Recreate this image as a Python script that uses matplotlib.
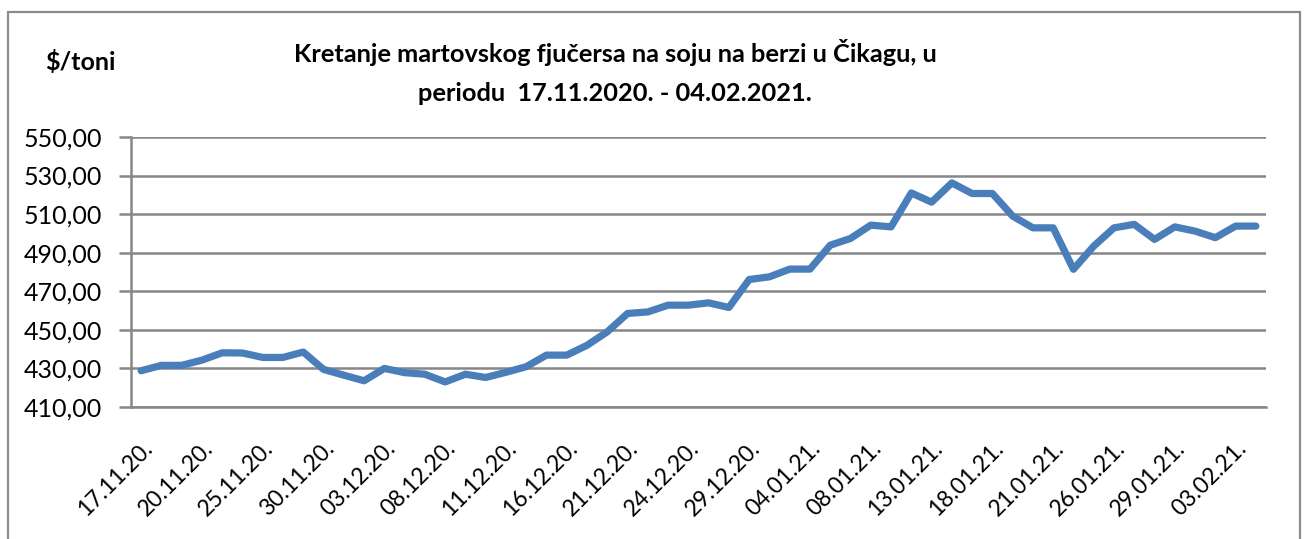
import matplotlib
matplotlib.use("Agg")
import matplotlib.pyplot as plt
from matplotlib.patches import Rectangle

# ---- data ----
dates = ["17.11.20.", "20.11.20.", "25.11.20.", "30.11.20.", "03.12.20.", "08.12.20.",
         "11.12.20.", "16.12.20.", "21.12.20.", "24.12.20.", "29.12.20.", "04.01.21.",
         "08.01.21.", "13.01.21.", "18.01.21.", "21.01.21.", "26.01.21.", "29.01.21.",
         "03.02.21."]
label_step = 3
prices = [428.8, 431.6, 431.6, 434.3, 438.1, 438.0, 435.7, 435.7, 438.5, 429.5,
          426.5, 423.6, 430.0, 427.8, 427.0, 423.0, 427.0, 425.3, 428.0, 430.9,
          436.9, 436.9, 442.0, 449.0, 458.5, 459.3, 462.8, 462.8, 464.0, 461.6,
          476.1, 477.5, 481.5, 481.5, 493.9, 497.4, 504.3, 503.4, 521.0, 516.2,
          526.2, 520.7, 520.7, 509.0, 502.9, 502.9, 481.4, 493.4, 502.9, 504.7,
          496.9, 503.4, 501.2, 497.8, 503.8, 503.8]
y_ticks = [410, 430, 450, 470, 490, 510, 530, 550]
title = "Kretanje martovskog fjučersa na soju na berzi u Čikagu, u\nperiodu  17.11.2020. - 04.02.2021."
unit = "$/toni"

FONT = ["Lato", "DejaVu Sans"]
plt.rcParams["font.family"] = FONT

W, H = 1306, 539
fig = plt.figure(figsize=(W / 100, H / 100), dpi=100)
fig.patch.set_facecolor("white")

# outer chart border
fig.patches.append(Rectangle((8 / W, -0.05), (1300 - 8) / W, 1.05 - 12 / H,
                             transform=fig.transFigure, fill=False,
                             edgecolor="#8c8c8c", linewidth=1.6))

ax = fig.add_axes([131 / W, 1 - 407 / H, (1266 - 131) / W, (407 - 137) / H])
x = list(range(len(prices)))
ax.plot(x, prices, color="#4a7ebb", linewidth=5.2, solid_joinstyle="round",
        solid_capstyle="round", zorder=3)

ax.set_xlim(-0.5, len(prices) - 0.5)
ax.set_ylim(410, 550)
ax.set_yticks(y_ticks)
ax.set_yticklabels([f"{v:.2f}".replace(".", ",") for v in y_ticks], fontsize=18)
ax.grid(axis="y", color="#878787", linewidth=1.8, zorder=1)
ax.set_axisbelow(True)

tick_pos = list(range(0, len(prices), label_step))[:len(dates)]
ax.set_xticks(tick_pos)
ax.set_xticklabels(dates, rotation=45, ha="right", va="top", fontsize=16.5,
                   rotation_mode="anchor")
ax.tick_params(axis="x", length=0, pad=22)
ax.tick_params(axis="y", length=9, width=1.8, color="#878787", pad=12)

for s in ["top", "right"]:
    ax.spines[s].set_visible(False)
ax.spines["left"].set_color("#878787")
ax.spines["left"].set_linewidth(1.8)
ax.spines["bottom"].set_color("#878787")
ax.spines["bottom"].set_linewidth(1.8)

fig.text(615 / W, 1 - 72 / H, title, ha="center", va="center", fontsize=18.3,
         fontweight="bold", linespacing=1.85)
fig.text(80 / W, 1 - 62 / H, unit, ha="center", va="center", fontsize=18,
         fontweight="bold")

fig.savefig("out.png", dpi=100)
